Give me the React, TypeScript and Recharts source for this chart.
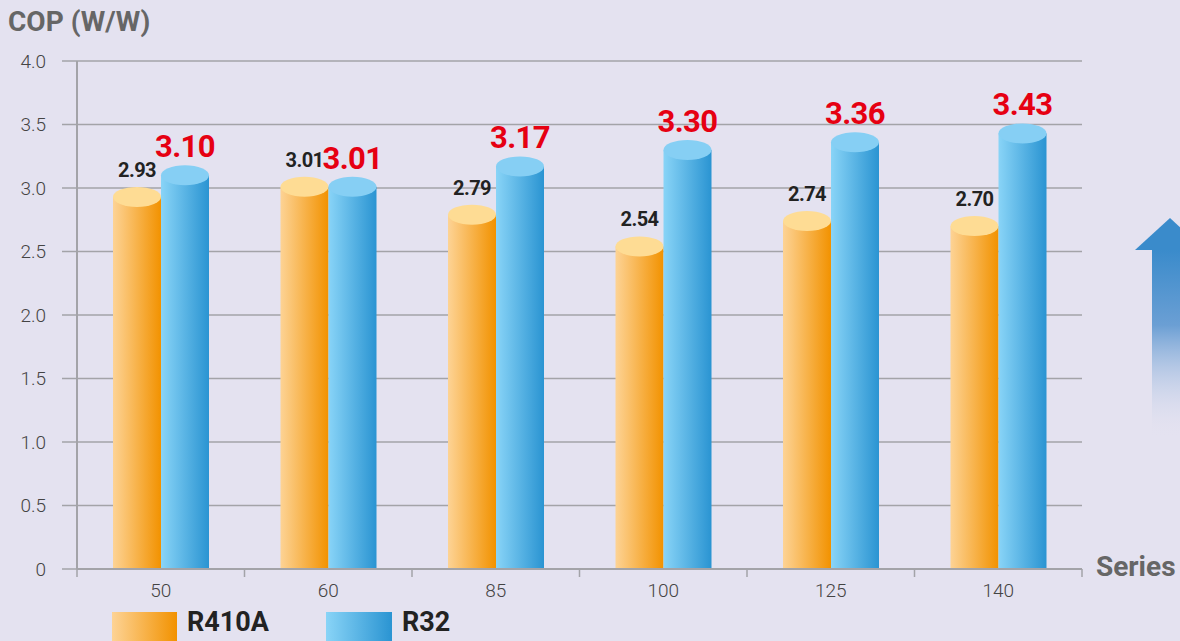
import React from 'react';
import { BarChart, Bar, XAxis, YAxis, CartesianGrid, LabelList } from 'recharts';

const categories = ['50', '60', '85', '100', '125', '140'];
const r410aValues = [2.93, 3.01, 2.79, 2.54, 2.74, 2.7];
const r32Values = [3.1, 3.01, 3.17, 3.3, 3.36, 3.43];
const yTicks = [0, 0.5, 1, 1.5, 2, 2.5, 3, 3.5, 4];

const data = categories.map((name, i) => ({ name, r410a: r410aValues[i], r32: r32Values[i] }));

const BG = '#e4e2f0';
const GRID = '#a3a3a8';
const FONT = 'Roboto, "Noto Sans", sans-serif';

function cylinder(bodyId: string, topColor: string) {
  return (props: any) => {
    const { x, y, width, height } = props;
    if (height == null || width == null) return null;
    const ry = 10;
    return (
      <g>
        <rect x={x} y={y} width={width} height={height} fill={`url(#${bodyId})`} />
        <ellipse cx={x + width / 2} cy={y} rx={width / 2} ry={ry} fill={topColor} />
      </g>
    );
  };
}

function valueLabel(size: number, color: string, lift: number, fmt: (v: number) => string) {
  return (props: any) => {
    const { x, y, width, value } = props;
    return (
      <text
        x={x + width / 2}
        y={y - lift}
        textAnchor="middle"
        fontFamily={FONT}
        fontWeight={700}
        fontSize={size}
        fill={color}
        letterSpacing={-0.6}
      >
        {fmt(value)}
      </text>
    );
  };
}

function XTick(props: any) {
  const { x, y, payload, index, visibleTicksCount } = props;
  const half = payload && payload.offset ? payload.offset : 83.75;
  const last = index === (visibleTicksCount ?? categories.length) - 1;
  return (
    <g>
      <line x1={x - half} y1={y} x2={x - half} y2={y + 8} stroke={GRID} strokeWidth={1.5} />
      {last && <line x1={x + half} y1={y} x2={x + half} y2={y + 8} stroke={GRID} strokeWidth={1.5} />}
      <text x={x} y={y + 28} textAnchor="middle" fontFamily={FONT} fontWeight={300} fontSize={19} fill="#444">
        {payload.value}
      </text>
    </g>
  );
}

export default function App() {
  return (
    <div style={{ position: 'absolute', left: 0, top: 0, width: 1180, height: 641, background: BG, overflow: 'hidden' }}>
      <BarChart
        width={1180}
        height={641}
        data={data}
        margin={{ top: 61, right: 98, bottom: 42, left: 0 }}
        barGap={0}
        barSize={48}
      >
        <defs>
          <linearGradient id="orangeBody" x1="0" y1="0" x2="1" y2="0">
            <stop offset="0%" stopColor="#fdd395" />
            <stop offset="100%" stopColor="#f29200" />
          </linearGradient>
          <linearGradient id="blueBody" x1="0" y1="0" x2="1" y2="0">
            <stop offset="0%" stopColor="#89d4f7" />
            <stop offset="100%" stopColor="#2a94d2" />
          </linearGradient>
        </defs>
        <CartesianGrid vertical={false} stroke={GRID} strokeWidth={1.5} />
        <XAxis
          dataKey="name"
          height={30}
          axisLine={{ stroke: GRID, strokeWidth: 2 }}
          tickLine={false}
          tickSize={0}
          tickMargin={0}
          tick={<XTick />}
          interval={0}
        />
        <YAxis
          width={77}
          domain={[0, 4]}
          ticks={yTicks}
          axisLine={{ stroke: GRID, strokeWidth: 2 }}
          tickLine={{ stroke: GRID, strokeWidth: 1.5 }}
          tickSize={15}
          tickMargin={16}
          tick={{ fontFamily: FONT, fontWeight: 300, fontSize: 19, fill: '#444' }}
          tickFormatter={(v: number) => (v === 0 ? '0' : v.toFixed(1))}
        />
        <Bar dataKey="r410a" isAnimationActive={false} shape={cylinder('orangeBody', '#fedc94')}>
          <LabelList dataKey="r410a" content={valueLabel(20, '#222', 20, (v) => v.toFixed(2))} />
        </Bar>
        <Bar dataKey="r32" isAnimationActive={false} shape={cylinder('blueBody', '#86cff4')}>
          <LabelList dataKey="r32" content={valueLabel(31, '#e60012', 18, (v) => v.toFixed(2))} />
        </Bar>
      </BarChart>

      <div style={{ position: 'absolute', left: 8, top: 5, fontFamily: FONT, fontWeight: 700, fontSize: 28, color: '#666' }}>
        COP (W/W)
      </div>
      <div style={{ position: 'absolute', left: 1096, top: 550, fontFamily: FONT, fontWeight: 700, fontSize: 28, color: '#666' }}>
        Series
      </div>

      <svg style={{ position: 'absolute', left: 1120, top: 210 }} width={60} height={240}>
        <defs>
          <linearGradient id="arrowShaft" x1="0" y1="0" x2="0" y2="1">
            <stop offset="0%" stopColor="#3a8bcb" />
            <stop offset="40%" stopColor="#6b9fd4" />
            <stop offset="100%" stopColor={BG} stopOpacity={0} />
          </linearGradient>
        </defs>
        <polygon points="50,8 15,40 85,40" fill="#3a8bcb" />
        <rect x={32} y={40} width={36} height={188} fill="url(#arrowShaft)" />
      </svg>

      <div style={{ position: 'absolute', left: 112, top: 612, width: 65, height: 40, background: 'linear-gradient(to right, #fdd395, #f29200)' }} />
      <div style={{ position: 'absolute', left: 187, top: 606, fontFamily: FONT, fontWeight: 700, fontSize: 27, color: '#222' }}>
        R410A
      </div>
      <div style={{ position: 'absolute', left: 326, top: 612, width: 66, height: 40, background: 'linear-gradient(to right, #89d4f7, #2a94d2)' }} />
      <div style={{ position: 'absolute', left: 402, top: 606, fontFamily: FONT, fontWeight: 700, fontSize: 27, color: '#222' }}>
        R32
      </div>
    </div>
  );
}
